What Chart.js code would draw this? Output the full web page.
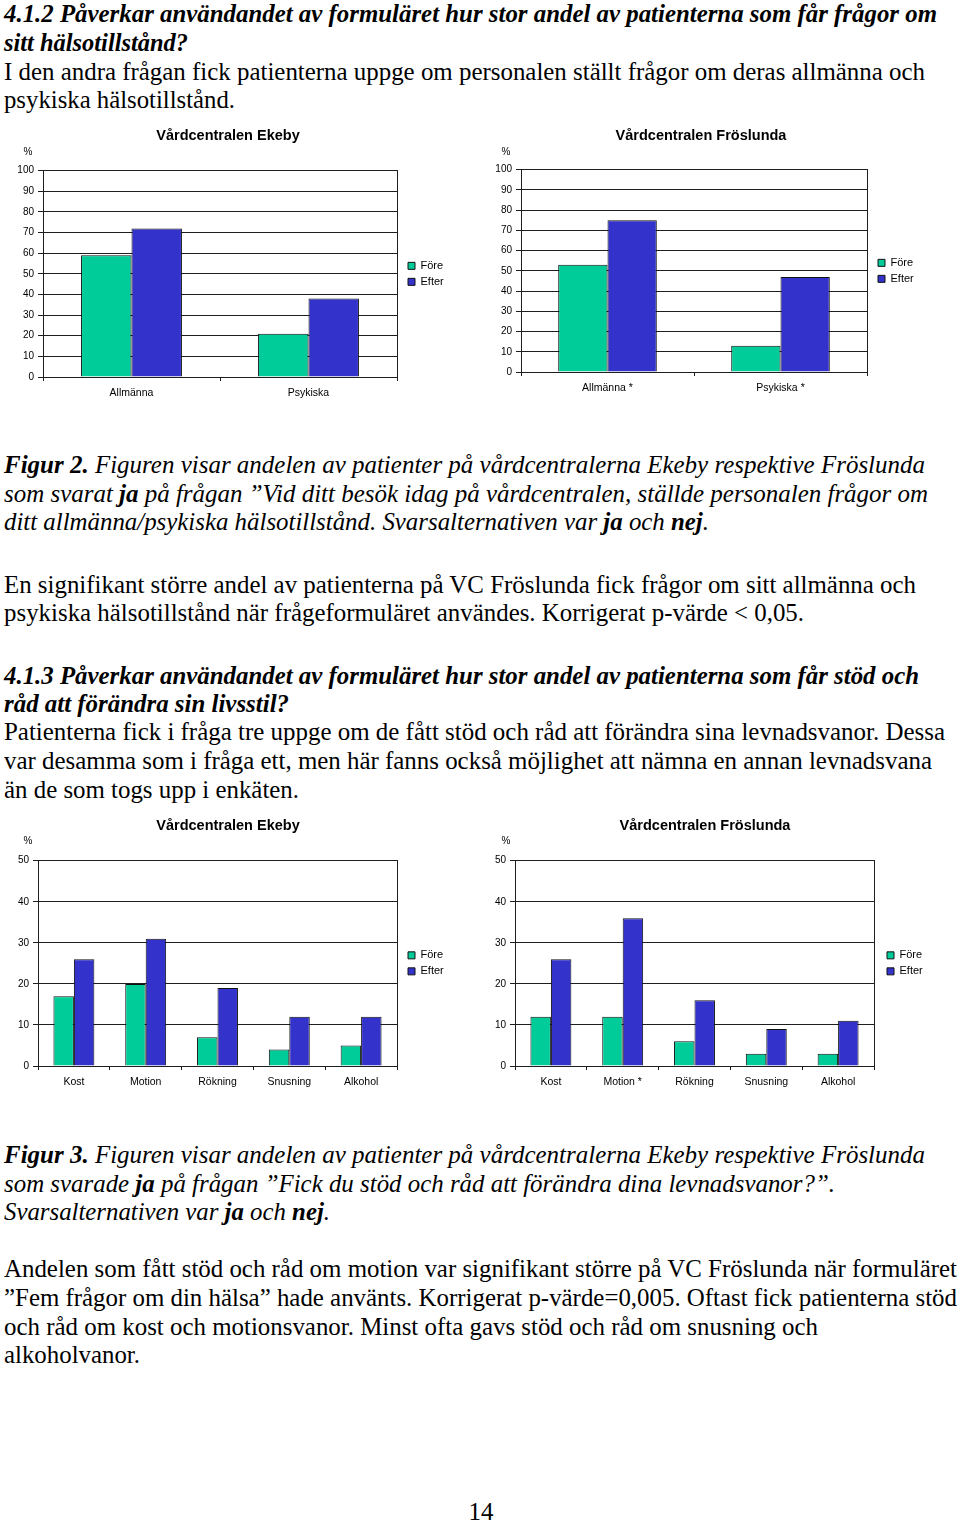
<!DOCTYPE html>
<html><head><meta charset="utf-8">
<script src="https://cdn.jsdelivr.net/npm/chart.js@4.4.1/dist/chart.umd.min.js"></script>
<style>
html,body{margin:0;padding:0;background:#fff;}
body{width:960px;height:1522px;position:relative;overflow:hidden;font-family:'Liberation Serif','Times New Roman',serif;color:#000;}
.ln{position:absolute;left:4px;white-space:nowrap;font-size:26px;line-height:29px;transform-origin:0 0;}
.h{font-weight:bold;font-style:italic;}
.i{font-style:italic;}
canvas{position:absolute;}
</style></head>
<body>
<div class="ln h" data-r="937" style="top:-1px">4.1.2 Påverkar användandet av formuläret hur stor andel av patienterna som får frågor om</div>
<div class="ln h" data-r="188" style="top:28px">sitt hälsotillstånd?</div>
<div class="ln" data-r="925" style="top:57px">I den andra frågan fick patienterna uppge om personalen ställt frågor om deras allmänna och</div>
<div class="ln" data-r="235" style="top:85px">psykiska hälsotillstånd.</div>

<div class="ln i" data-r="925" style="top:450px"><b>Figur 2.</b> Figuren visar andelen av patienter på vårdcentralerna Ekeby respektive Fröslunda</div>
<div class="ln i" data-r="928" style="top:479px">som svarat <b>ja</b> på frågan ”Vid ditt besök idag på vårdcentralen, ställde personalen frågor om</div>
<div class="ln i" data-r="709" style="top:507px">ditt allmänna/psykiska hälsotillstånd. Svarsalternativen var <b>ja</b> och <b>nej</b>.</div>

<div class="ln" data-r="916" style="top:570px">En signifikant större andel av patienterna på VC Fröslunda fick frågor om sitt allmänna och</div>
<div class="ln" data-r="804" style="top:598px">psykiska hälsotillstånd när frågeformuläret användes. Korrigerat p-värde &lt; 0,05.</div>

<div class="ln h" data-r="919" style="top:661px">4.1.3 Påverkar användandet av formuläret hur stor andel av patienterna som får stöd och</div>
<div class="ln h" data-r="289" style="top:689px">råd att förändra sin livsstil?</div>
<div class="ln" data-r="945" style="top:717px">Patienterna fick i fråga tre uppge om de fått stöd och råd att förändra sina levnadsvanor. Dessa</div>
<div class="ln" data-r="932" style="top:746px">var desamma som i fråga ett, men här fanns också möjlighet att nämna en annan levnadsvana</div>
<div class="ln" data-r="299" style="top:775px">än de som togs upp i enkäten.</div>

<div class="ln i" data-r="925" style="top:1140px"><b>Figur 3.</b> Figuren visar andelen av patienter på vårdcentralerna Ekeby respektive Fröslunda</div>
<div class="ln i" data-r="835" style="top:1169px">som svarade <b>ja</b> på frågan ”Fick du stöd och råd att förändra dina levnadsvanor?”.</div>
<div class="ln i" data-r="330" style="top:1197px">Svarsalternativen var <b>ja</b> och <b>nej</b>.</div>

<div class="ln" data-r="957" style="top:1254px">Andelen som fått stöd och råd om motion var signifikant större på VC Fröslunda när formuläret</div>
<div class="ln" data-r="957" style="top:1283px">”Fem frågor om din hälsa” hade använts. Korrigerat p-värde=0,005. Oftast fick patienterna stöd</div>
<div class="ln" data-r="818" style="top:1312px">och råd om kost och motionsvanor. Minst ofta gavs stöd och råd om snusning och</div>
<div class="ln" data-r="140" style="top:1340px">alkoholvanor.</div>

<div style="position:absolute;left:0;width:962px;top:1497px;text-align:center;font-size:25px;line-height:29px;">14</div>

<canvas id="c1" width="480" height="290" style="left:0;top:120px"></canvas>
<canvas id="c2" width="480" height="290" style="left:480px;top:120px"></canvas>
<canvas id="c3" width="480" height="290" style="left:0;top:810px"></canvas>
<canvas id="c4" width="480" height="290" style="left:480px;top:810px"></canvas>

<script>
// ---- data ----
const seriesNames = ['Före', 'Efter'];
const healthCatsEkeby = ['Allmänna', 'Psykiska'];
const healthCatsFroslunda = ['Allmänna *', 'Psykiska *'];
const ekebyHealthFore = [59, 21];
const ekebyHealthEfter = [72, 38];
const froslundaHealthFore = [53, 13];
const froslundaHealthEfter = [75, 47];

const habitCatsEkeby = ['Kost', 'Motion', 'Rökning', 'Snusning', 'Alkohol'];
const habitCatsFroslunda = ['Kost', 'Motion *', 'Rökning', 'Snusning', 'Alkohol'];
const ekebyHabitFore = [17, 20, 7, 4, 5];
const ekebyHabitEfter = [26, 31, 19, 12, 12];
const froslundaHabitFore = [12, 12, 6, 3, 3];
const froslundaHabitEfter = [26, 36, 16, 9, 11];

const healthAxisMax = 100;
const habitAxisMax = 50;
const axisStep = 10;
const unitLabel = '%';

// ---- fit text lines ----
document.querySelectorAll('.ln[data-r]').forEach(el => {
  const w = el.getBoundingClientRect().width;
  const target = +el.dataset.r - 4;
  el.style.transform = 'scaleX(' + (target / w) + ')';
});

// ---- charts ----
const FONT = "'Liberation Sans', Arial, sans-serif";
Chart.defaults.font.family = FONT;
Chart.defaults.color = '#000';
const COL_FORE = '#00CC99';
const COL_EFTER = '#3333CC';
const GRID = '#1e1e1e';

function makeChart(id, p) {
  const unitPlugin = {
    id: 'unitLbl',
    afterDraw(chart) {
      const a = chart.chartArea, ctx = chart.ctx;
      ctx.save();
      ctx.font = '10px ' + FONT;
      ctx.fillStyle = '#000';
      ctx.textAlign = 'center';
      ctx.textBaseline = 'middle';
      ctx.fillText(unitLabel, a.left + p.ux, a.top + p.uy);
      ctx.restore();
    }
  };
  const legendWidthPlugin = {
    id: 'legW',
    beforeInit(chart) {
      const orig = chart.legend.fit;
      chart.legend.fit = function () { orig.call(this); this.width = p.legendW; };
    }
  };
  const bg = {
    id: 'bg',
    beforeDraw(chart) {
      const ctx = chart.ctx;
      ctx.save(); ctx.fillStyle = '#fff'; ctx.fillRect(0, 0, chart.width, chart.height); ctx.restore();
    }
  };
  return new Chart(document.getElementById(id), {
    type: 'bar',
    data: {
      labels: p.labels,
      datasets: [
        { label: seriesNames[0], data: p.fore, backgroundColor: COL_FORE, borderColor: '#111', borderWidth: 1,
          categoryPercentage: 0.57, barPercentage: 1.0 },
        { label: seriesNames[1], data: p.efter, backgroundColor: COL_EFTER, borderColor: '#111', borderWidth: 1,
          categoryPercentage: 0.57, barPercentage: 1.0 }
      ]
    },
    options: {
      responsive: false,
      animation: false,
      devicePixelRatio: 1,
      layout: { padding: { left: 0, top: 0, bottom: 0, right: p.padRight } },
      plugins: {
        title: { display: true, text: p.title, color: '#000',
          font: { family: FONT, size: 14.5, weight: 'bold' },
          padding: { top: 7.3, bottom: p.titleBottom - 0.6 } },
        legend: { position: 'right', fullSize: false, align: 'center',
          labels: { boxWidth: 7, boxHeight: 7, padding: 5, color: '#000', font: { family: FONT, size: 11 } } },
        tooltip: { enabled: false }
      },
      scales: {
        x: {
          grid: { offset: true, drawOnChartArea: false, drawTicks: true, tickLength: 4, color: GRID },
          border: { display: true, color: GRID, width: 1 },
          ticks: { padding: 5.7, color: '#000', font: { family: FONT, size: 10.5 }, maxRotation: 0, autoSkip: false },
          afterFit(s) { s.height = p.xH; }
        },
        y: {
          min: 0, max: p.max,
          ticks: { stepSize: axisStep, padding: 4, color: '#000', font: { family: FONT, size: 10 } },
          grid: { color: GRID, lineWidth: 1, tickLength: 5, drawTicks: true },
          border: { display: true, color: GRID, width: 1 },
          afterFit(s) { s.width = p.yW; }
        },
        y2: {
          position: 'right', min: 0, max: p.max,
          ticks: { display: false },
          grid: { drawOnChartArea: false, drawTicks: false, color: GRID },
          border: { display: true, color: GRID, width: 1 },
          afterFit(s) { s.width = p.y2W; }
        }
      }
    },
    plugins: [bg, legendWidthPlugin, unitPlugin]
  });
}

makeChart('c1', { title: 'Vårdcentralen Ekeby', labels: healthCatsEkeby, fore: ekebyHealthFore, efter: ekebyHealthEfter,
  max: healthAxisMax, yW: 43, y2W: 6, legendW: 53, padRight: 24, titleBottom: 26.6, xH: 33, ux: -15, uy: -18 });
makeChart('c2', { title: 'Vårdcentralen Fröslunda', labels: healthCatsFroslunda, fore: froslundaHealthFore, efter: froslundaHealthEfter,
  max: healthAxisMax, yW: 41, y2W: 6, legendW: 49, padRight: 38, titleBottom: 25.6, xH: 38, ux: -15, uy: -17 });
makeChart('c3', { title: 'Vårdcentralen Ekeby', labels: habitCatsEkeby, fore: ekebyHabitFore, efter: ekebyHabitEfter,
  max: habitAxisMax, yW: 38, y2W: 6, legendW: 53, padRight: 24, titleBottom: 26.6, xH: 34, ux: -10, uy: -19 });
makeChart('c4', { title: 'Vårdcentralen Fröslunda', labels: habitCatsFroslunda, fore: froslundaHabitFore, efter: froslundaHabitEfter,
  max: habitAxisMax, yW: 35, y2W: 8, legendW: 48, padRight: 30, titleBottom: 26.6, xH: 34, ux: -9, uy: -19 });
</script>
</body></html>
